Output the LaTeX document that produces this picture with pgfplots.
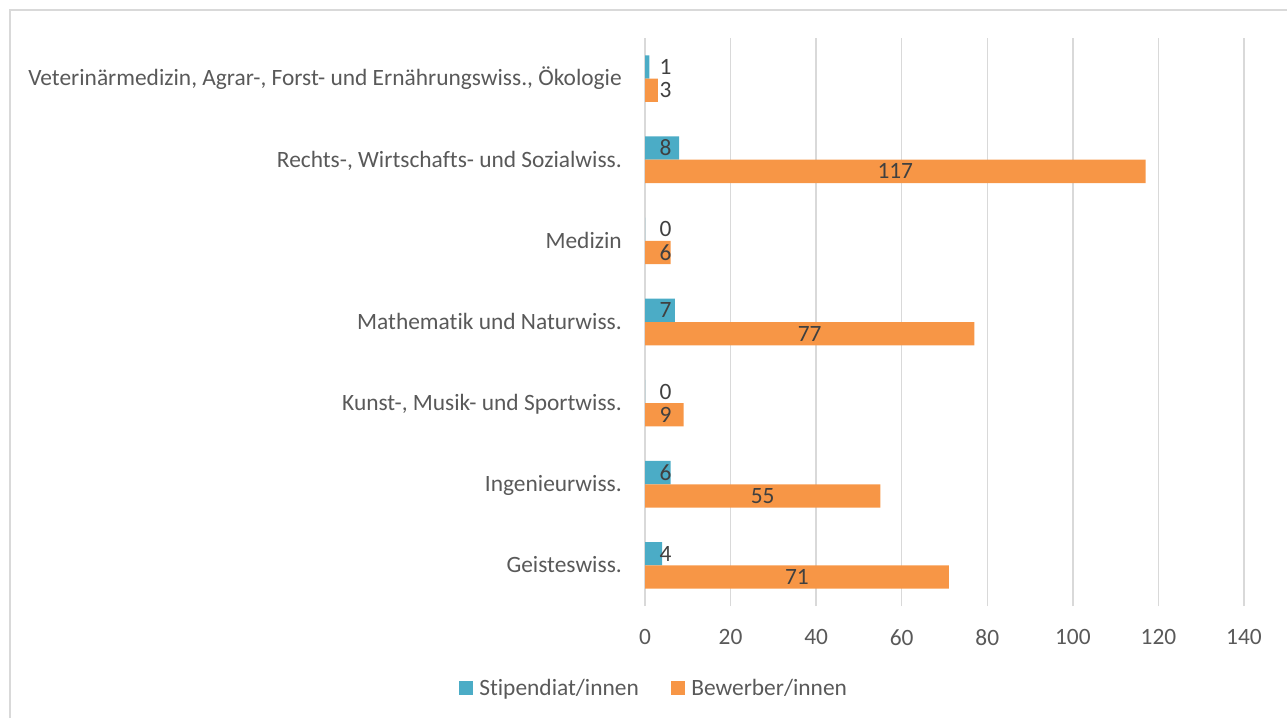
\documentclass[border=0pt]{standalone}
\usepackage{fontspec}
\setmainfont{Carlito}[Ligatures={NoCommon}]
\usepackage{pgfplots}
\usepackage{pgfplotstable}
\pgfplotsset{compat=1.18}
\definecolor{cteal}{HTML}{4BACC6}
\definecolor{corange}{HTML}{F79646}
\definecolor{cgrid}{HTML}{D9D9D9}
\definecolor{ctick}{HTML}{595959}
\definecolor{clabel}{HTML}{404040}

\pgfplotstableread{
k stip bew stiplx bewlx
0 4 71 4.8 35.5
1 6 55 4.8 27.5
2 0 9 4.8 4.8
3 7 77 4.8 38.5
4 0 6 4.8 4.8
5 8 117 4.8 58.5
6 1 3 4.8 4.8
}\datatable

\newcommand{\chartfont}{\fontsize{23.4}{27}\selectfont}

\begin{document}
\begin{tikzpicture}
\path[use as bounding box] (0pt,0pt) rectangle (1287pt,718pt);
\draw[cgrid, line width=1.2pt] (10pt,0pt) -- (10pt,708pt) -- (1290pt,708pt);
\begin{axis}[
  at={(645pt,112pt)}, anchor=south west,
  scale only axis, width=599pt, height=568pt,
  xmin=0, xmax=140, ymin=-0.5, ymax=6.5,
  xtick={0,20,...,140},
  ytick={0,1,2,3,4,5,6},
  yticklabels={{Geisteswiss.},{Ingenieurwiss.},{Kunst-, Musik- und Sportwiss.},{Mathematik und Naturwiss.},{Medizin},{Rechts-, Wirtschafts- und Sozialwiss.},{Veterinärmedizin, Agrar-, Forst- und Ernährungswiss., Ökologie}},
  axis line style={draw=none},
  major tick length=0pt,
  xmajorgrids,
  major grid style={cgrid, line width=1.4pt},
  /pgf/number format/assume math mode=true,
  xticklabel style={font=\chartfont, text=ctick, inner sep=0pt, anchor=north, yshift=-23pt},
  yticklabel style={font=\chartfont, text=ctick, inner sep=0pt, anchor=base east, xshift=-23pt, yshift=-7.4pt},
  legend style={draw=none, fill=none, font=\chartfont, text=ctick,
    at={(0.0149,-0.1444)}, anchor=center, legend columns=2,
    /tikz/every even column/.append style={column sep=30pt}},
  legend cell align=left,
  clip=false,
]
\addplot[xbar, bar width=23.3pt, bar shift=11.65pt, fill=cteal, draw=none, forget plot]
  table[x=stip, y=k] {\datatable};
\addplot[xbar, bar width=23.3pt, bar shift=-11.65pt, fill=corange, draw=none, forget plot]
  table[x=bew, y=k] {\datatable};
\addplot[only marks, mark=*, mark size=0pt, mark options={draw=none, fill=none}, forget plot,
  nodes near coords, point meta=explicit symbolic,
  nodes near coords style={anchor=center, font=\chartfont, text=clabel, inner sep=0pt}]
  table[x=stiplx, y expr=\thisrow{k}+0.1436, meta=stip] {\datatable};
\addplot[only marks, mark=*, mark size=0pt, mark options={draw=none, fill=none}, forget plot,
  nodes near coords, point meta=explicit symbolic,
  nodes near coords style={anchor=center, font=\chartfont, text=clabel, inner sep=0pt}]
  table[x=bewlx, y expr=\thisrow{k}-0.1436, meta=bew] {\datatable};
\addlegendimage{legend image code/.code={\fill[cteal] (0pt,-6.5pt) rectangle (13pt,6.5pt); \path (18pt,0pt);}}
\addlegendentry{Stipendiat/innen}
\addlegendimage{legend image code/.code={\fill[corange] (0pt,-6.5pt) rectangle (13pt,6.5pt); \path (18pt,0pt);}}
\addlegendentry{Bewerber/innen}
\end{axis}
\end{tikzpicture}
\end{document}
